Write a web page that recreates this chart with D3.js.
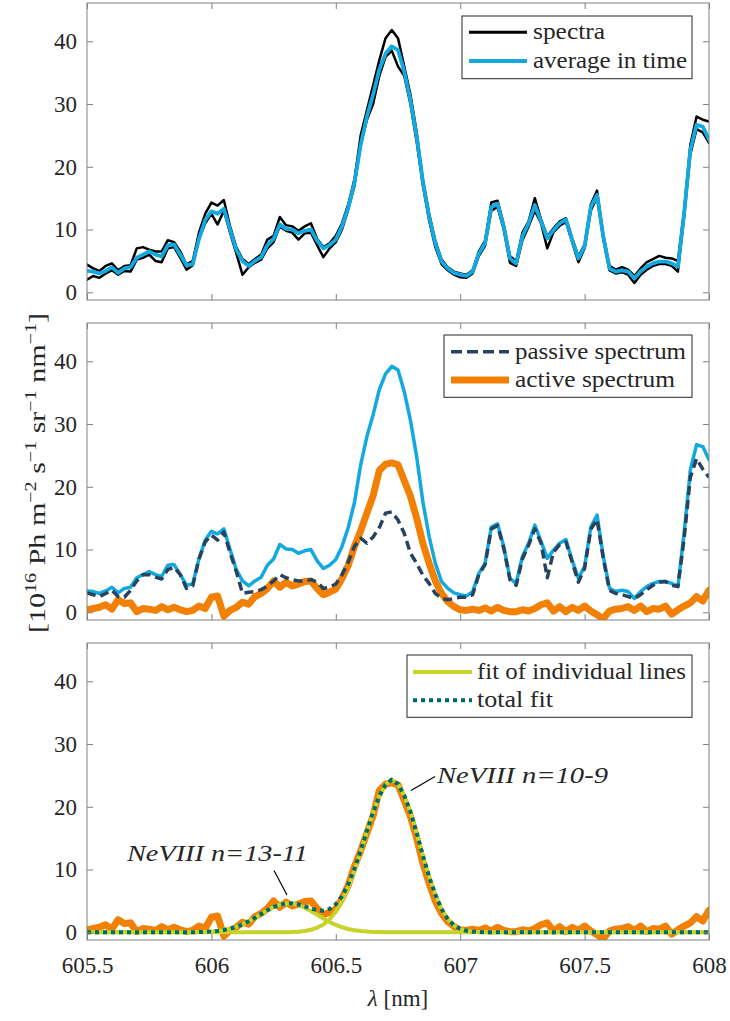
<!DOCTYPE html>
<html><head><meta charset="utf-8">
<script src="https://cdn.jsdelivr.net/npm/d3@7"></script>
</head>
<body style="margin:0;padding:0;background:#fff"><svg id="chart" width="730" height="1021" font-family="Liberation Serif"></svg>
<script>
const lambda = [605.5,605.525,605.55,605.575,605.6,605.625,605.65,605.675,605.7,605.725,
605.75,605.775,605.8,605.825,605.85,605.875,605.9,605.925,605.95,605.975,
606,606.025,606.05,606.075,606.1,606.125,606.15,606.175,606.2,606.225,
606.25,606.275,606.3,606.325,606.35,606.375,606.4,606.425,606.45,606.475,
606.5,606.525,606.55,606.575,606.6,606.625,606.65,606.675,606.7,606.725,
606.75,606.775,606.8,606.825,606.85,606.875,606.9,606.925,606.95,606.975,
607,607.025,607.05,607.075,607.1,607.125,607.15,607.175,607.2,607.225,
607.25,607.275,607.3,607.325,607.35,607.375,607.4,607.425,607.45,607.475,
607.5,607.525,607.55,607.575,607.6,607.625,607.65,607.675,607.7,607.725,
607.75,607.775,607.8,607.825,607.85,607.875,607.9,607.925,607.95,607.975,608];

const spectraA = [4.4,3.8,3.4,4.2,4.6,3.5,4.2,4.3,7.0,7.2,
6.8,6.5,6.5,8.3,8.0,6.5,4.4,5.0,9.5,12.5,
14.3,13.8,14.7,10.5,7.2,5.3,4.5,5.3,6.0,8.4,
9.0,12.0,10.7,10.5,9.8,10.5,11.0,8.5,7.2,7.8,
9.0,11.0,14.0,18.0,25.0,29.0,33.0,37.0,40.5,41.8,
40.5,36.0,31.5,25.5,18.0,12.5,8.2,5.2,4.0,3.3,
3.0,2.8,3.5,6.5,8.2,14.3,14.6,10.8,5.8,4.9,
9.5,11.3,15.0,11.6,8.9,10.2,11.3,11.8,8.6,5.7,
7.6,14.0,16.2,9.2,4.2,3.6,4.0,3.6,2.6,3.8,
4.8,5.3,5.8,5.5,5.4,5.0,13.0,23.5,28.0,27.5,27.2];

const spectraB = [2.0,2.6,2.3,3.0,3.5,2.8,3.4,3.3,5.2,5.5,
6.0,5.0,4.8,7.0,7.2,5.5,3.6,4.3,8.5,11.0,
12.5,10.8,13.0,9.5,6.2,2.8,4.0,4.7,5.2,7.0,
8.0,10.5,9.8,9.5,8.4,9.4,9.5,7.5,5.6,7.0,
8.0,10.0,13.2,17.0,23.5,27.5,30.0,34.5,37.5,38.5,
36.0,34.5,30.0,24.0,17.0,11.5,7.2,4.5,3.5,2.8,
2.4,2.3,3.0,5.8,7.4,13.0,13.6,10.0,4.7,4.2,
8.3,10.5,13.0,11.0,7.0,9.6,10.6,11.2,8.0,4.8,
7.0,13.0,15.2,8.5,3.5,3.0,3.2,2.8,1.5,2.8,
3.6,4.2,4.5,4.5,4.2,3.3,12.0,22.0,26.0,25.5,23.8];

const averageInTime = [3.4,3.3,3.0,3.4,4.0,3.1,3.8,4.0,5.5,6.0,
6.5,6.0,5.7,7.5,7.6,6.0,4.3,4.5,8.5,11.5,
12.9,12.5,13.3,10.0,6.8,5.0,4.2,5.0,5.6,7.5,
8.5,10.8,10.1,10.0,9.4,9.8,10.0,8.2,7.0,7.5,
8.4,10.5,13.5,17.5,23.5,28.0,31.5,35.5,38.0,39.2,
38.6,35.2,30.6,24.8,17.6,12.1,7.8,4.9,3.8,3.1,
2.8,2.6,3.3,6.2,7.8,13.6,14.1,10.5,5.4,4.6,
8.9,11.0,13.9,11.3,8.6,9.9,11.0,11.6,8.3,5.4,
7.3,13.6,15.5,8.9,3.8,3.3,3.5,3.3,2.2,3.3,
4.1,4.6,4.9,4.9,4.6,4.1,12.6,22.7,26.7,26.4,24.3];

const passive = [3.1,2.8,2.5,3.0,3.5,2.5,2.4,3.5,5.0,6.0,
6.0,5.6,5.3,6.8,7.2,6.0,3.8,4.2,8.5,11.2,
12.3,11.5,12.8,9.5,6.5,3.0,3.2,3.3,3.6,4.2,
5.0,6.0,5.5,5.2,5.0,5.0,5.2,4.8,3.8,4.0,
4.5,6.0,8.0,10.5,11.8,11.0,12.0,13.5,15.8,16.0,
14.7,12.6,9.4,7.8,5.9,4.6,3.0,2.2,2.0,2.2,
2.4,2.4,2.8,6.0,7.6,13.3,13.8,10.2,5.2,4.3,
8.5,10.7,13.3,11.0,5.5,9.6,10.8,11.2,8.0,4.8,
7.0,13.2,14.8,8.6,3.5,3.0,2.8,2.5,2.2,2.8,
3.6,4.3,4.8,4.9,4.3,4.1,11.8,21.5,24.5,22.8,21.5];

const active = [0.4,0.6,0.8,1.2,0.5,2.0,1.4,1.5,0.1,0.6,
0.5,0.3,0.9,0.4,0.8,0.4,0.1,0.3,1.0,0.6,
2.4,2.6,-0.6,0.3,0.8,1.6,1.3,2.5,3.0,3.8,
5.0,4.0,4.8,4.2,4.5,4.9,5.0,3.8,2.8,3.2,
3.7,5.4,7.5,10.5,13.0,15.8,18.6,22.6,23.6,23.8,
23.5,21.0,18.5,15.0,11.0,7.8,5.0,3.0,1.7,0.9,
0.4,0.3,0.5,0.3,0.7,0.2,0.8,0.3,0.1,0.1,
0.4,0.2,0.6,1.2,1.5,0.2,0.9,0.1,0.8,0.3,
1.0,0.2,-0.4,-1.0,0.2,0.5,0.6,0.9,0.3,1.0,
0.1,0.6,0.5,1.0,-0.3,0.4,1.0,1.5,2.5,1.8,3.5];

const fitLine1 = [0,0,0,0,0,0,0,0,0,0,
0,0,0,0,0,0,0,0,0.03,0.07,
0.12,0.21,0.36,0.57,0.87,1.26,1.75,2.31,2.91,3.50,
4.01,4.39,4.58,4.56,4.33,3.92,3.39,2.79,2.19,1.64,
1.17,0.80,0.52,0.32,0.19,0.11,0.06,0.03,0,0,
0,0,0,0,0,0,0,0,0,0,
0,0,0,0,0,0,0,0,0,0,
0,0,0,0,0,0,0,0,0,0,
0,0,0,0,0,0,0,0,0,0,
0,0,0,0,0,0,0,0,0,0,0];

const fitLine2 = [0,0,0,0,0,0,0,0,0,0,
0,0,0,0,0,0,0,0,0,0,
0,0,0,0,0,0,0,0,0,0,
0,0,0.02,0.05,0.10,0.21,0.40,0.72,1.25,2.08,
3.29,4.96,7.14,9.80,12.82,16.02,19.08,21.67,23.5,24.3,
23.6,21.8,19.2,15.8,12.2,8.9,6.0,3.7,2.1,1.1,
0.55,0.25,0.1,0.04,0,0,0,0,0,0,
0,0,0,0,0,0,0,0,0,0,
0,0,0,0,0,0,0,0,0,0,
0,0,0,0,0,0,0,0,0,0,0];

const totalFit = [0,0,0,0,0,0,0,0,0,0,
0,0,0,0,0,0,0,0,0.03,0.07,
0.12,0.21,0.36,0.57,0.87,1.26,1.75,2.31,2.91,3.50,
4.01,4.39,4.60,4.61,4.43,4.13,3.79,3.51,3.44,3.72,
4.46,5.76,7.66,10.12,13.01,16.13,19.14,21.70,23.53,24.33,
23.6,21.8,19.2,15.8,12.2,8.9,6.0,3.7,2.1,1.1,
0.55,0.25,0.1,0.04,0,0,0,0,0,0,
0,0,0,0,0,0,0,0,0,0,
0,0,0,0,0,0,0,0,0,0,
0,0,0,0,0,0,0,0,0,0,0];

const xTicks = [605.5,606,606.5,607,607.5,608];
const xTickLabels = ["605.5","606","606.5","607","607.5","608"];
const yTicks = [0,10,20,30,40];
const yTickLabels = ["0","10","20","30","40"];
const legend1 = ["spectra","average in time"];
const legend2 = ["passive spectrum","active spectrum"];
const legend3 = ["fit of individual lines","total fit"];
const annotations = ["NeVIII n=13-11","NeVIII n=10-9"];

const C = {black:"#000000", blue:"#12a9e1", navy:"#27435d", orange:"#f28005", lime:"#c6d32a", teal:"#006a6b", axis:"#808080", text:"#262626"};
const FAM = "Liberation Serif";

const svg = d3.select("#chart");
const L = 87, R = 709, PH = 297;
const tops = [3, 323, 643];
const x = d3.scaleLinear().domain([605.5, 608]).range([L, R]);
const FS = 22;

function T(sel){ return sel.attr("font-family", FAM).style("font-family", "'Liberation Serif', serif").attr("fill", C.text); }
function fitW(sel, w){ return sel.attr("textLength", w).attr("lengthAdjust", "spacingAndGlyphs"); }
function series(vals){ return lambda.map((l,i)=>[l, vals[i]]); }

function panel(p){
  const top = tops[p];
  const y = d3.scaleLinear().domain([-1.23, 46.1]).range([top+PH, top]);
  const g = svg.append("g");
  const cid = "clip"+p;
  svg.append("clipPath").attr("id", cid).append("rect")
    .attr("x", L).attr("y", top).attr("width", R-L).attr("height", PH);
  const plot = g.append("g").attr("clip-path", `url(#${cid})`);
  const line = d3.line().x(d=>x(d[0])).y(d=>y(d[1]));
  const ax = g.append("g");
  ax.append("g").attr("transform",`translate(${L},0)`)
    .call(d3.axisLeft(y).tickValues(yTicks).tickFormat((d,i)=>yTickLabels[i]).tickSizeInner(-6).tickSizeOuter(0).tickPadding(10));
  ax.append("g").attr("transform",`translate(${R},0)`)
    .call(d3.axisRight(y).tickValues(yTicks).tickFormat("").tickSizeInner(-6).tickSizeOuter(0));
  ax.append("g").attr("transform",`translate(0,${top})`)
    .call(d3.axisTop(x).tickValues(xTicks).tickFormat("").tickSizeInner(-6).tickSizeOuter(0));
  ax.append("g").attr("transform",`translate(0,${top+PH})`)
    .call(d3.axisBottom(x).tickValues(xTicks).tickFormat(p===2 ? (d,i)=>xTickLabels[i] : "").tickSizeInner(-6).tickSizeOuter(0).tickPadding(17));
  ax.selectAll(".domain").remove();
  ax.selectAll("g").attr("font-family", FAM);
  ax.selectAll(".tick line").attr("stroke", C.axis).attr("stroke-width", 1);
  ax.selectAll(".tick text").filter(function(){ return this.textContent === ""; }).remove();
  T(ax.selectAll(".tick text").attr("font-size", FS + 1));
  g.append("rect").attr("x", L).attr("y", top).attr("width", R-L).attr("height", PH)
    .attr("fill","none").attr("stroke", C.axis).attr("stroke-width", 1);
  return {g, plot, y, line, top};
}

function drawLine(P, vals, color, width, dash){
  const path = P.plot.append("path").datum(series(vals))
    .attr("d", P.line).attr("fill","none").attr("stroke", color)
    .attr("stroke-width", width).attr("stroke-linejoin","round").attr("stroke-linecap", dash ? "butt" : "round");
  if (dash) path.attr("stroke-dasharray", dash);
  return path;
}

function legend(P, box, items){
  const lg = P.g.append("g");
  lg.append("rect").attr("x", box.x0).attr("y", P.top+box.y0).attr("width", box.x1-box.x0).attr("height", box.y1-box.y0)
    .attr("fill","#fff").attr("stroke","#262626").attr("stroke-width",1);
  items.forEach((it,i)=>{
    const yy = P.top + box.rows[i];
    const ln = lg.append("line").attr("x1", box.s0).attr("x2", box.s1).attr("y1", yy).attr("y2", yy)
      .attr("stroke", it.color).attr("stroke-width", it.width);
    if (it.dash) ln.attr("stroke-dasharray", it.dash);
    fitW(T(lg.append("text").attr("x", box.t).attr("y", yy+7).attr("font-size", FS + 1)), it.w).text(it.label);
  });
}

const P1 = panel(0);
drawLine(P1, spectraB, C.black, 2.5);
drawLine(P1, spectraA, C.black, 2.5);
drawLine(P1, averageInTime, C.blue, 3.8);
legend(P1, {x0:462, x1:692, y0:13, y1:75.7, rows:[29.3, 58], s0:469, s1:527, t:533},
  [{label:legend1[0], color:C.black, width:3, w:72},{label:legend1[1], color:C.blue, width:4, w:154}]);

const P2 = panel(1);
drawLine(P2, averageInTime, C.blue, 3.5);
drawLine(P2, active, C.orange, 7);
drawLine(P2, passive, C.navy, 3.5, "9,5");
legend(P2, {x0:444, x1:692, y0:12, y1:74.3, rows:[28.7, 57], s0:451, s1:509, t:515},
  [{label:legend2[0], color:C.navy, width:3.5, dash:"11,5", w:171},{label:legend2[1], color:C.orange, width:7, w:160}]);

const P3 = panel(2);
drawLine(P3, active, C.orange, 7);
drawLine(P3, fitLine1, C.lime, 4);
drawLine(P3, fitLine2, C.lime, 4);
drawLine(P3, totalFit, C.teal, 4, "4,4");
legend(P3, {x0:407, x1:692, y0:12, y1:74.3, rows:[29, 57.3], s0:413, s1:472, t:477},
  [{label:legend3[0], color:C.lime, width:4, w:209},{label:legend3[1], color:C.teal, width:4, dash:"4,4", w:76}]);

const ann = svg.append("g");
ann.append("line").attr("x1",274).attr("y1",870.5).attr("x2",287).attr("y2",895).attr("stroke","#000").attr("stroke-width",1.2);
fitW(T(ann.append("text").attr("x",127).attr("y",861).attr("font-size",FS+1).attr("font-style","italic")), 181).text(annotations[0]);
ann.append("line").attr("x1",435).attr("y1",776.5).attr("x2",411).attr("y2",790.5).attr("stroke","#000").attr("stroke-width",1.2);
fitW(T(ann.append("text").attr("x",437).attr("y",783).attr("font-size",FS+1).attr("font-style","italic")), 171).text(annotations[1]);

const xl = T(svg.append("text").attr("x", 398).attr("y", 1006).attr("text-anchor","middle").attr("font-size", FS+1));
xl.append("tspan").attr("font-style","italic").text("λ");
xl.append("tspan").text(" [nm]");

const yl = fitW(T(svg.append("text").attr("transform","translate(45,473) rotate(-90)").attr("text-anchor","middle").attr("font-size", FS+2)), 320);
const parts = [["[10",""],["16","sup"],[" Ph m",""],["−2","sup"],[" s",""],["−1","sup"],[" sr",""],["−1","sup"],[" nm",""],["−1","sup"],["]",""]];
parts.forEach(([t,k])=>{
  const ts = yl.append("tspan").text(t);
  if (k==="sup") ts.attr("font-size", 16).attr("baseline-shift","55%");
});
</script></body></html>
